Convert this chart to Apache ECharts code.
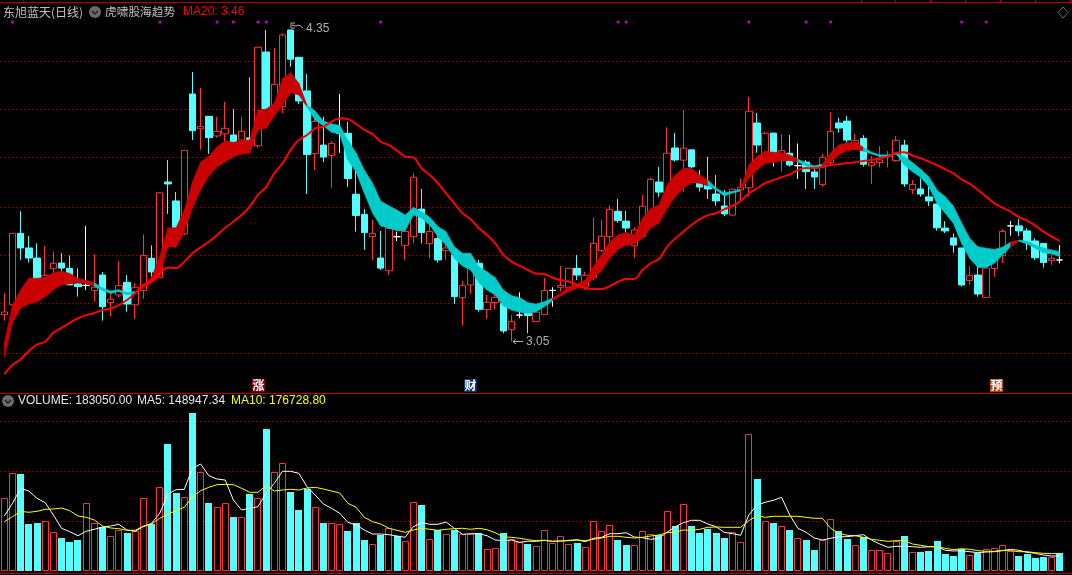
<!DOCTYPE html>
<html><head><meta charset="utf-8"><style>html,body{margin:0;padding:0;background:#000}#c{width:1072px;height:575px}</style>
<script src="https://cdn.jsdelivr.net/npm/echarts@6/dist/echarts.min.js"></script></head>
<body><div id="c"></div><script>
const opens=[3.163,3.204,3.502,3.441,3.399,3.266,3.355,3.378,3.356,3.291,3.285,3.263,3.328,3.213,3.245,3.298,3.204,3.263,3.398,3.317,3.716,3.637,3.500,4.083,3.938,3.990,3.908,3.917,3.912,3.891,3.900,3.867,4.258,4.025,4.030,4.350,4.236,4.096,3.834,3.870,3.827,3.920,3.919,3.665,3.581,3.488,3.399,3.346,3.488,3.452,3.488,3.603,3.459,3.480,3.430,3.412,3.234,3.287,3.377,3.184,3.213,3.210,3.100,3.161,3.169,3.134,3.163,3.264,3.277,3.277,3.356,3.278,3.317,3.430,3.488,3.594,3.553,3.450,3.488,3.558,3.716,3.670,3.858,3.807,3.850,3.713,3.704,3.666,3.616,3.578,3.683,3.692,3.962,3.816,3.920,3.808,3.836,3.784,3.799,3.758,3.705,3.797,3.962,3.970,3.858,3.898,3.784,3.797,3.822,3.805,3.870,3.684,3.687,3.654,3.624,3.524,3.483,3.441,3.305,3.328,3.235,3.355,3.409,3.533,3.533,3.512,3.470,3.460,3.388,3.391];
const closes=[3.174,3.502,3.441,3.399,3.310,3.327,3.377,3.357,3.287,3.280,3.285,3.277,3.196,3.227,3.284,3.207,3.277,3.410,3.341,3.671,3.708,3.519,3.848,3.930,3.948,3.901,3.927,3.940,3.884,3.927,3.891,4.278,4.020,4.123,4.329,4.228,4.054,3.830,3.969,3.820,3.877,3.920,3.730,3.576,3.505,3.502,3.357,3.523,3.488,3.510,3.736,3.505,3.510,3.391,3.441,3.238,3.285,3.363,3.185,3.214,3.235,3.095,3.135,3.161,3.159,3.173,3.264,3.264,3.285,3.356,3.328,3.327,3.460,3.490,3.602,3.555,3.524,3.516,3.615,3.727,3.674,3.836,3.808,3.857,3.779,3.695,3.687,3.637,3.583,3.686,3.694,4.011,3.870,3.919,3.820,3.847,3.787,3.784,3.759,3.737,3.819,3.927,3.941,3.891,3.890,3.790,3.797,3.808,3.826,3.890,3.708,3.706,3.666,3.637,3.525,3.512,3.453,3.287,3.327,3.249,3.357,3.391,3.510,3.533,3.512,3.465,3.400,3.380,3.398,3.391];
const lows=[3.138,3.203,3.391,3.380,3.307,3.245,3.307,3.328,3.287,3.238,3.266,3.217,3.138,3.157,3.235,3.175,3.146,3.229,3.321,3.316,3.583,3.495,3.495,3.891,3.850,3.833,3.901,3.884,3.877,3.884,3.887,3.859,4.008,4.016,4.003,4.197,4.041,3.666,3.766,3.799,3.690,3.838,3.696,3.509,3.433,3.391,3.349,3.328,3.470,3.391,3.460,3.460,3.398,3.380,3.391,3.207,3.116,3.249,3.175,3.145,3.185,3.085,3.050,3.148,3.085,3.134,3.163,3.196,3.259,3.266,3.307,3.266,3.307,3.424,3.453,3.546,3.495,3.400,3.483,3.549,3.654,3.662,3.801,3.676,3.774,3.676,3.645,3.617,3.574,3.576,3.641,3.655,3.838,3.808,3.780,3.759,3.780,3.729,3.687,3.687,3.696,3.791,3.922,3.880,3.850,3.780,3.708,3.777,3.777,3.801,3.696,3.666,3.655,3.616,3.513,3.503,3.421,3.280,3.287,3.238,3.235,3.321,3.378,3.492,3.491,3.433,3.391,3.359,3.370,3.377];
const highs=[3.253,3.503,3.594,3.491,3.460,3.449,3.427,3.419,3.410,3.356,3.533,3.415,3.341,3.257,3.387,3.328,3.294,3.498,3.452,3.674,3.808,3.674,3.850,4.175,4.108,3.991,3.988,4.050,4.020,3.988,4.153,4.279,4.350,4.274,4.336,4.350,4.237,4.166,4.003,3.988,3.887,4.083,3.967,3.787,3.603,3.558,3.512,3.537,3.509,3.520,3.752,3.687,3.545,3.508,3.474,3.433,3.303,3.412,3.391,3.245,3.266,3.237,3.161,3.256,3.182,3.191,3.316,3.277,3.366,3.357,3.412,3.342,3.569,3.558,3.620,3.645,3.595,3.528,3.662,3.734,3.779,3.944,3.920,4.016,3.850,3.766,3.822,3.745,3.683,3.688,3.731,4.070,4.004,3.925,3.920,3.916,3.912,3.877,3.808,3.783,3.833,4.007,3.984,3.991,3.916,3.911,3.825,3.866,3.845,3.908,3.891,3.724,3.731,3.696,3.624,3.553,3.502,3.441,3.366,3.363,3.357,3.399,3.519,3.553,3.562,3.523,3.481,3.462,3.412,3.453];
const ma20=[2.915,2.953,2.977,3.011,3.039,3.050,3.088,3.108,3.129,3.148,3.161,3.170,3.182,3.188,3.203,3.224,3.252,3.287,3.305,3.335,3.360,3.357,3.384,3.419,3.444,3.467,3.495,3.525,3.550,3.578,3.613,3.662,3.696,3.752,3.794,3.850,3.891,3.912,3.940,3.947,3.968,3.982,3.978,3.958,3.933,3.916,3.884,3.870,3.847,3.822,3.819,3.773,3.745,3.711,3.669,3.627,3.586,3.561,3.523,3.495,3.460,3.412,3.384,3.366,3.349,3.334,3.332,3.317,3.307,3.300,3.287,3.273,3.270,3.270,3.282,3.300,3.312,3.312,3.349,3.377,3.394,3.446,3.481,3.509,3.537,3.561,3.578,3.586,3.602,3.617,3.637,3.669,3.690,3.711,3.724,3.736,3.748,3.766,3.774,3.773,3.779,3.787,3.790,3.794,3.798,3.804,3.808,3.815,3.822,3.838,3.840,3.826,3.815,3.801,3.786,3.769,3.752,3.727,3.708,3.683,3.655,3.627,3.609,3.592,3.569,3.555,3.534,3.509,3.488,3.470];
const bandUpper=[3.043,3.203,3.266,3.316,3.314,3.319,3.338,3.345,3.335,3.314,3.307,3.296,3.274,3.262,3.267,3.255,3.259,3.287,3.319,3.405,3.525,3.525,3.599,3.717,3.799,3.824,3.863,3.888,3.880,3.891,3.891,4.016,4.020,4.044,4.148,4.172,4.128,4.037,4.012,3.970,3.959,3.952,3.891,3.837,3.766,3.712,3.637,3.617,3.599,3.578,3.611,3.592,3.569,3.530,3.509,3.446,3.419,3.419,3.363,3.342,3.317,3.266,3.242,3.234,3.213,3.207,3.217,3.232,3.252,3.279,3.291,3.307,3.363,3.412,3.467,3.495,3.506,3.495,3.565,3.606,3.620,3.704,3.745,3.773,3.773,3.745,3.724,3.690,3.671,3.677,3.686,3.787,3.822,3.845,3.840,3.838,3.829,3.811,3.795,3.783,3.791,3.838,3.870,3.880,3.883,3.861,3.840,3.829,3.829,3.838,3.822,3.797,3.769,3.738,3.683,3.655,3.616,3.546,3.481,3.446,3.440,3.435,3.444,3.466,3.474,3.469,3.453,3.441,3.433,3.425];
const bandLower=[2.982,3.128,3.191,3.207,3.217,3.238,3.266,3.288,3.291,3.296,3.294,3.282,3.264,3.251,3.259,3.245,3.251,3.274,3.294,3.321,3.446,3.444,3.509,3.608,3.683,3.741,3.779,3.799,3.822,3.833,3.837,3.933,3.940,3.991,4.037,4.088,4.079,4.030,3.975,3.950,3.923,3.916,3.808,3.758,3.670,3.587,3.533,3.523,3.513,3.513,3.578,3.565,3.537,3.488,3.453,3.398,3.366,3.349,3.296,3.266,3.245,3.199,3.182,3.173,3.169,3.175,3.196,3.221,3.241,3.259,3.273,3.282,3.314,3.346,3.398,3.435,3.453,3.458,3.481,3.523,3.544,3.606,3.655,3.690,3.713,3.711,3.699,3.683,3.658,3.670,3.679,3.731,3.766,3.794,3.797,3.805,3.805,3.799,3.783,3.772,3.783,3.801,3.829,3.847,3.852,3.845,3.833,3.822,3.820,3.833,3.787,3.759,3.736,3.696,3.627,3.586,3.544,3.460,3.398,3.359,3.359,3.377,3.412,3.446,3.469,3.458,3.440,3.421,3.416,3.405];
const bandRising='R'.repeat(12)+'C'.repeat(5)+'R'.repeat(21)+'C'.repeat(30)+'R'.repeat(19)+'C'.repeat(4)+'R'.repeat(7)+'C'.repeat(3)+'R'.repeat(5)+'C'.repeat(18)+'R'+'C'.repeat(5);
const volumesK=[727,977,970,470,480,497,387,330,290,310,677,477,443,347,410,380,397,727,470,837,1270,780,737,1580,987,680,637,677,540,537,770,727,1420,987,1077,790,610,823,637,480,477,467,400,480,310,267,363,430,353,297,687,660,317,410,367,413,367,367,380,217,227,380,317,290,273,247,407,277,347,267,280,237,497,397,457,310,260,257,397,367,357,597,450,667,450,380,417,380,330,387,287,1367,920,497,480,447,410,327,310,210,313,517,400,320,257,340,207,207,177,297,350,187,190,200,300,170,150,220,157,177,217,227,257,197,150,170,130,140,143,183.05];
const volumeRising='RRCCCRRCCC'+'RRCRRCRRCR'+'CCRCRCRRCR'+'CRCRRCCCRC'+'RRCCCRCRCR'+'RCRCRCRRCR'+'RCRRCRRRRR'+'CRRRRCCRRR'+'CRCRCCCCCR'+'RRCRCRCRCC'+'RRCCRCRRRR'+'CRCCCCCCRC'+'RRRRCCCCRC';
const ma5K=[550,677,827,800,727,683,560,427,393,353,397,417,440,450,467,410,397,443,477,577,770,813,817,1027,1070,953,920,910,710,610,627,643,777,877,997,997,977,843,760,670,627,577,487,460,410,370,370,363,350,337,443,483,467,467,490,427,367,373,373,353,310,303,310,287,297,297,307,297,300,303,313,293,327,337,373,373,383,340,333,317,327,387,443,483,507,507,470,443,387,373,357,560,660,687,707,737,560,427,387,330,310,327,343,343,353,363,310,270,237,247,247,243,237,243,243,207,200,203,193,183,190,193,203,217,207,187,177,160,150,148.947];
const ma10K=[493,543,597,587,597,617,620,630,603,550,537,510,450,430,423,407,407,450,470,527,570,603,637,743,803,837,863,867,863,827,787,787,853,800,810,817,810,830,837,820,800,780,677,637,537,493,470,427,407,387,410,427,417,407,417,423,427,417,427,413,383,340,337,327,313,303,307,297,300,307,310,303,317,330,347,347,337,330,337,350,360,383,387,410,407,417,437,440,437,437,437,503,553,537,547,547,547,547,537,527,527,427,377,357,353,337,317,307,297,303,303,270,257,243,243,227,213,223,217,203,197,197,207,203,193,193,183,177,173,176.729];
const signalDays=[1,19,26,28,31,32,46,75,76,91,98,101,117,120];
const signalPrice=4.383;
const priceGridValues=[4.2227,4.0183,3.8182,3.6139,3.4095,3.2052,3.0009];
const categories=opens.map((_,i)=>String(i)).concat(['']);
const stockTitle='东旭蓝天(日线)', indicatorName='虎啸股海趋势', ma20Label='MA20: 3.46';
const volumeLabel='VOLUME: 183050.00', ma5Label='MA5: 148947.34', ma10Label='MA10: 176728.80';
const highLabel='4.35', lowLabel='3.05';
const eventMarks=[['涨',252,'#800010'],['财',464,'#0f3060'],['预',990,'#b04010']];
const topTicks=[23,861,895,930,965,1000,1035,1070];

const RED='#ff3333',CYAN='#55ffff',GRID='#b00000',BORDER='#b00000';
const UI='"Liberation Sans",Arial,sans-serif',CJK='"Noto Sans CJK SC",sans-serif';
const chart=echarts.init(document.getElementById('c'),null,{renderer:'canvas'});
const candleData=opens.map((o,i)=>[o,closes[i],lows[i],highs[i]]);
const bandData=bandUpper.slice(0,-1).map((u,i)=>[i,u,bandLower[i],bandUpper[i+1],bandLower[i+1],bandRising[i+1]==='R'?1:0]);
const volData=volumesK.map((v,i)=>[i,v,volumeRising[i]==='R'?1:0]);
const txt=(x,y,text,fill,font,size,extra)=>({type:'text',x,y,silent:true,z:50,style:Object.assign({text,fill,fontFamily:font,fontSize:size,textVerticalAlign:'middle',verticalAlign:'middle'},extra||{})});
const hline=(y)=>({type:'line',silent:true,z:40,shape:{x1:0,y1:y,x2:1072,y2:y},style:{stroke:BORDER,lineWidth:1}});
const pol=(pts,c,w)=>({type:'polyline',silent:true,z:50,shape:{points:pts},style:{stroke:c,lineWidth:w||1,fill:null}});
const icon=(x,y)=>[{type:'circle',silent:true,z:50,shape:{cx:x,cy:y,r:6},style:{fill:'#6a6a6a'}},pol([[x-3,y-1],[x,y+2],[x+3,y-1]],'#222',1.5)];
const graphics=[hline(2.5),hline(393.5),hline(573.5),
  ...topTicks.map(x=>({type:'line',silent:true,z:40,shape:{x1:x+.5,y1:0,x2:x+.5,y2:2},style:{stroke:BORDER,lineWidth:1}})),
  txt(3,12,stockTitle,'#c0c0c0',CJK,12),...icon(95,12),txt(105,12,indicatorName,'#c0c0c0',CJK,11.7),
  txt(183,12,ma20Label,'#ff0000',UI,12),
  ...icon(8,401),txt(18,401,volumeLabel,'#e8e8e8',UI,12),txt(137,401,ma5Label,'#e8e8e8',UI,12),txt(231,401,ma10Label,'#ffff00',UI,12),
  {type:'polygon',silent:true,z:50,shape:{points:[[1063,7],[1068,12.5],[1063,18],[1058,12.5]]},style:{stroke:'#707070',fill:null,lineWidth:1}},
  pol([[295,28],[291,28],[291,23],[295,23]],'#b0b0b0'),pol([[292,25],[296,26],[299,25],[303,28]],'#b0b0b0'),txt(306,29,highLabel,'#b0b0b0',UI,12),
  pol([[523,341.5],[513,341.5]],'#b0b0b0'),pol([[516,339],[513,341.5],[516,344]],'#b0b0b0'),txt(526,342,lowLabel,'#b0b0b0',UI,12),
  ...eventMarks.flatMap(([t,x,c])=>[
    {type:'rect',silent:true,z:50,shape:{x,y:379,width:13,height:13},style:{fill:c}},
    txt(x+.5,385.5,t,'#fff',CJK,12,{fontWeight:'bold'})])
];
const gridLineStyle={color:GRID,type:[1,3],width:1};
chart.setOption({
  animation:false,backgroundColor:'#000',
  grid:[{left:0.2,width:1074.2,top:8,height:385},{left:0.2,width:1074.2,top:393,height:178}],
  xAxis:[0,1].map(g=>({type:'category',gridIndex:g,data:categories,boundaryGap:true,show:false})),
  yAxis:[
    {type:'value',gridIndex:0,min:2.8362,max:4.4416,show:false,splitLine:{show:false}},
    {type:'value',gridIndex:1,min:0,max:1780,interval:500,
     axisLine:{show:false},axisTick:{show:false},axisLabel:{show:false},
     splitLine:{show:true,showMinLine:false,showMaxLine:false,lineStyle:gridLineStyle}}
  ],
  series:[
    {type:'candlestick',xAxisIndex:0,yAxisIndex:0,data:candleData,barWidth:7,z:3,
     itemStyle:{color:'#000',color0:CYAN,borderColor:RED,borderColor0:CYAN,borderColorDoji:'#ffffff',borderWidth:1},
     markLine:{silent:true,symbol:'none',label:{show:false},z:1,lineStyle:gridLineStyle,
       data:priceGridValues.map(v=>({yAxis:v}))}},
    {type:'custom',xAxisIndex:0,yAxisIndex:0,data:bandData,z:4,encode:{x:0,y:[1,2]},clip:false,
     renderItem:(p,api)=>{const i=api.value(0);
       const a=api.coord([i,api.value(1)]),b=api.coord([i+1,api.value(3)]),c=api.coord([i+1,api.value(4)]),d=api.coord([i,api.value(2)]);
       const col=api.value(5)?'#cc0000':'#00cccc';
       return {type:'polygon',shape:{points:[a,b,c,d]},style:{fill:col,stroke:col,lineWidth:0.6}};}},
    {type:'line',xAxisIndex:0,yAxisIndex:0,data:ma20,showSymbol:false,z:5,smooth:0.3,lineStyle:{color:'#ff0000',width:2}},
    {type:'scatter',xAxisIndex:0,yAxisIndex:0,data:signalDays.map(i=>[i,signalPrice]),symbol:'rect',symbolSize:2.6,z:6,itemStyle:{color:'#ff00ff'}},
    {type:'custom',xAxisIndex:1,yAxisIndex:1,data:volData,z:3,encode:{x:0,y:1},
     renderItem:(p,api)=>{const i=api.value(0);
       const top=api.coord([i,api.value(1)]),base=api.coord([i,0]);
       const x0=Math.round(top[0]-3.5),y0=Math.round(top[1]),y1=Math.round(base[1]);
       return api.value(2)
        ?{type:'rect',shape:{x:x0+.5,y:y0+.5,width:6,height:y1-y0-1},style:{fill:'#000',stroke:RED,lineWidth:1}}
        :{type:'rect',shape:{x:x0,y:y0,width:7,height:y1-y0},style:{fill:CYAN}};}},
    {type:'line',xAxisIndex:1,yAxisIndex:1,data:ma5K,showSymbol:false,z:5,lineStyle:{color:'#ffffff',width:1}},
    {type:'line',xAxisIndex:1,yAxisIndex:1,data:ma10K,showSymbol:false,z:6,lineStyle:{color:'#ffff00',width:1}}
  ],
  graphic:{elements:graphics}
});
</script></body></html>
